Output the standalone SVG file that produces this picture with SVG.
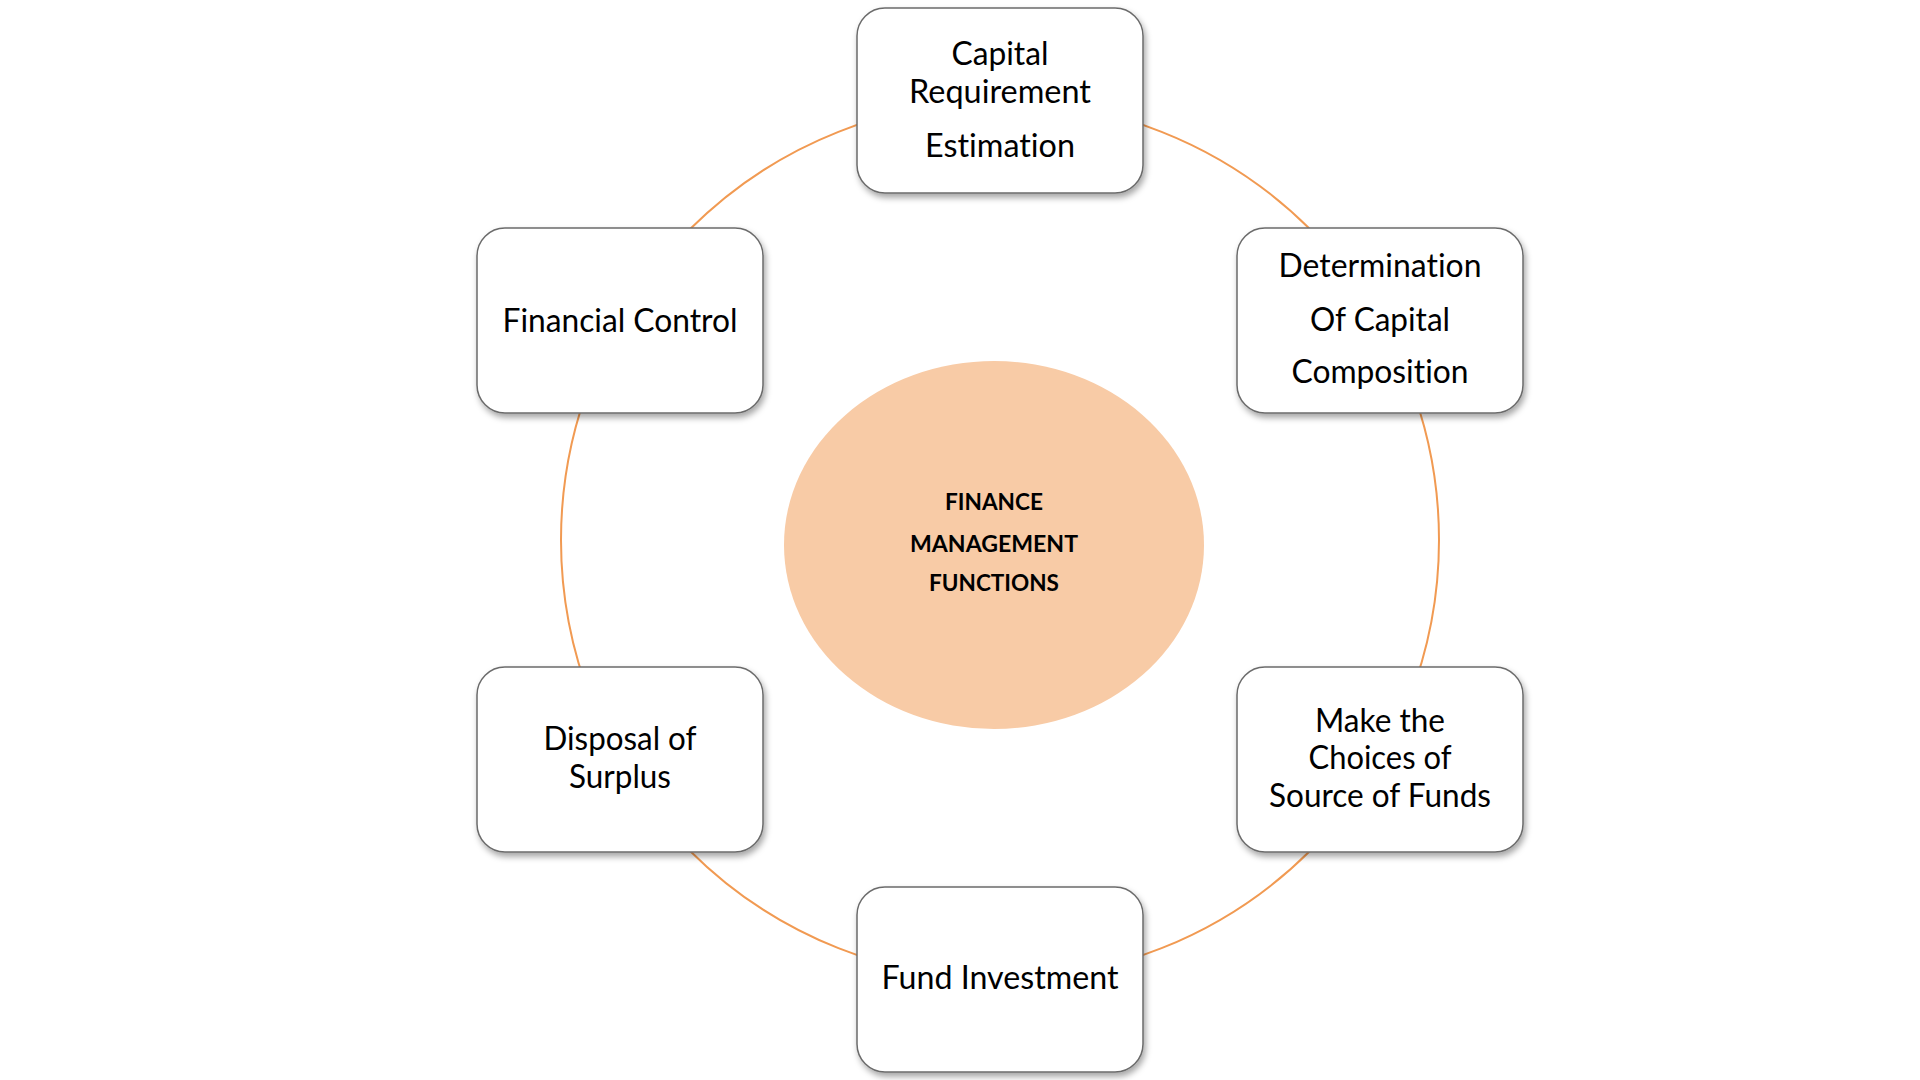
<svg xmlns="http://www.w3.org/2000/svg" width="1920" height="1080" viewBox="0 0 1920 1080">
<defs>
<filter id="sh" x="-10%" y="-10%" width="125%" height="130%">
<feDropShadow dx="2" dy="4" stdDeviation="3" flood-color="#000" flood-opacity="0.35"/>
</filter>
<style>
.box{fill:#fff;stroke:#6b6b6b;stroke-width:1.5;filter:url(#sh)}
.t{font-family:Lato,"Open Sans",sans-serif;font-size:32px;fill:#000;text-anchor:middle;font-variant-ligatures:none;font-feature-settings:"liga" 0,"dlig" 0}
.c{font-family:Lato,"Open Sans",sans-serif;font-size:23px;font-weight:bold;fill:#000;text-anchor:middle;font-variant-ligatures:none}
.ring{fill:none;stroke:#F19A52;stroke-width:2}
</style>
</defs>
<rect width="1920" height="1080" fill="#fff"/>
<g id="connectors">
<circle class="ring" cx="1000" cy="540" r="439"/>
</g>
<g id="center">
<ellipse cx="994" cy="545" rx="210" ry="184" fill="#F8CBA6"/>
<text class="c" x="994" y="510" textLength="98" lengthAdjust="spacingAndGlyphs">FINANCE</text>
<text class="c" x="994" y="552" textLength="168" lengthAdjust="spacingAndGlyphs">MANAGEMENT</text>
<text class="c" x="994" y="591" textLength="130" lengthAdjust="spacingAndGlyphs">FUNCTIONS</text>
</g>
<g id="node-capital">
<rect class="box" x="857" y="8" width="286" height="185" rx="28"/>
<text class="t" x="1000" y="65" textLength="97" lengthAdjust="spacingAndGlyphs">Capital</text>
<text class="t" x="1000" y="103" textLength="182" lengthAdjust="spacingAndGlyphs">Requirement</text>
<text class="t" x="1000" y="157" textLength="150" lengthAdjust="spacingAndGlyphs">Estimation</text>
</g>
<g id="node-determination">
<rect class="box" x="1237" y="228" width="286" height="185" rx="28"/>
<text class="t" x="1380" y="277" textLength="203" lengthAdjust="spacingAndGlyphs">Determination</text>
<text class="t" x="1380" y="331" textLength="140" lengthAdjust="spacingAndGlyphs">Of Capital</text>
<text class="t" x="1380" y="383" textLength="177" lengthAdjust="spacingAndGlyphs">Composition</text>
</g>
<g id="node-choices">
<rect class="box" x="1237" y="667" width="286" height="185" rx="28"/>
<text class="t" x="1380" y="732" textLength="130" lengthAdjust="spacingAndGlyphs">Make the</text>
<text class="t" x="1380" y="769" textLength="143" lengthAdjust="spacingAndGlyphs">Choices of</text>
<text class="t" x="1380" y="807" textLength="222" lengthAdjust="spacingAndGlyphs">Source of Funds</text>
</g>
<g id="node-fund">
<rect class="box" x="857" y="887" width="286" height="185" rx="28"/>
<text class="t" x="1000" y="989" textLength="237" lengthAdjust="spacingAndGlyphs">Fund Investment</text>
</g>
<g id="node-disposal">
<rect class="box" x="477" y="667" width="286" height="185" rx="28"/>
<text class="t" x="620" y="750" textLength="153" lengthAdjust="spacingAndGlyphs">Disposal of</text>
<text class="t" x="620" y="788" textLength="102" lengthAdjust="spacingAndGlyphs">Surplus</text>
</g>
<g id="node-control">
<rect class="box" x="477" y="228" width="286" height="185" rx="28"/>
<text class="t" x="620" y="332" textLength="235" lengthAdjust="spacingAndGlyphs">Financial Control</text>
</g>
</svg>
